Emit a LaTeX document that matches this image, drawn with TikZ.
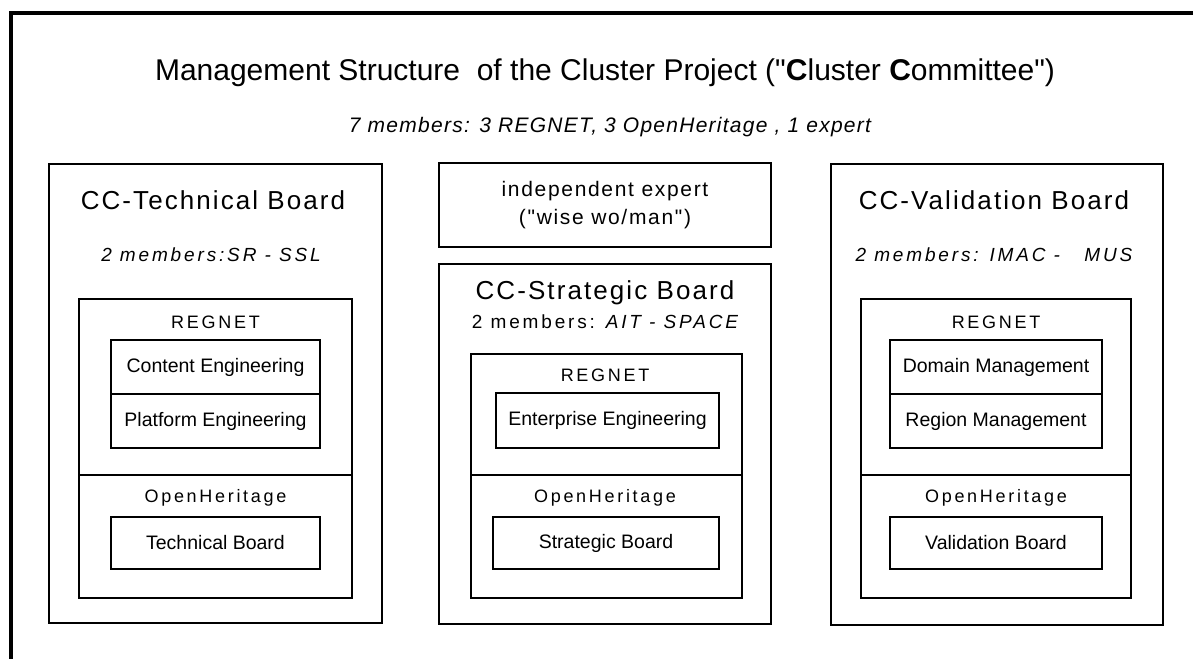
\documentclass[tikz,border=0pt]{standalone}
\usepackage{fontspec}
\setmainfont{Liberation Sans}[Ligatures=TeXOff]
\newfontfamily\spacedfont{Liberation Sans}[Ligatures=TeXOff]

\begin{document}
\begin{tikzpicture}[
    x=1pt, y=-1pt,
    board/.style={rectangle, draw, line width=1.4pt, inner sep=0pt},
    part/.style={rectangle, draw, line width=1.1pt, inner sep=0pt},
    unit/.style={rectangle, draw, line width=1.1pt, inner sep=0pt, font=\fontsize{19.5}{22}\selectfont},
    head/.style={font=\spacedfont\addfontfeature{LetterSpace=8}\fontsize{26}{30}\selectfont},
    members/.style={font=\spacedfont\addfontfeature{LetterSpace=15}\fontsize{19}{22}\selectfont},
    group/.style={font=\spacedfont\addfontfeature{LetterSpace=15}\fontsize{18}{21}\selectfont}
]
\useasboundingbox (0,0) rectangle (1193,659);

% Rahmen (nur oben und links sichtbar)
\coordinate (frame_tr) at (1193,12.5);
\coordinate (frame_tl) at (10.5,12.5);
\coordinate (frame_bl) at (10.5,659);
\draw[line width=4pt] (frame_tr) -- (frame_tl) -- (frame_bl);

% Ueberschrift
\node[font=\fontsize{30}{34}\selectfont] (title) at (605,73) {Management Structure\ \ of the Cluster Project ("\textbf{C}luster \textbf{C}ommittee")};
\node[font=\spacedfont\addfontfeature{LetterSpace=6}\itshape\fontsize{21}{24}\selectfont] (subtitle) at (610,127) {7 members: 3 REGNET, 3 OpenHeritage , 1 expert};

% Technical Board (links)
\node[board, minimum width=333pt, minimum height=459pt] (tech) at (215.5,393.5) {};
\node[head] (tech_head) at (213,200) {CC-Technical Board};
\node[members] (tech_members) at (211,255) {\itshape 2 members:SR - SSL};
\node[part, minimum width=273pt, minimum height=176pt] (tech_regnet) at (215.5,387) {};
\node[part, minimum width=273pt, minimum height=123pt] (tech_oh) at (215.5,536.5) {};
\node[group] at (215.5,322) (tech_regnet_label) {REGNET};
\node[unit, minimum width=209pt, minimum height=54pt] (content) at (215.5,367) {Content Engineering};
\node[unit, minimum width=209pt, minimum height=54pt] (platform) at (215.5,421) {Platform Engineering};
\node[group] at (215.5,498) (tech_oh_label) {OpenHeritage};
\node[unit, minimum width=209pt, minimum height=52pt] (oh_tech) at (215.5,543) {Technical Board};

% Experte und Strategic Board (Mitte)
\node[board, minimum width=332pt, minimum height=84pt, align=center, font=\spacedfont\addfontfeature{LetterSpace=8}\fontsize{21}{28}\selectfont] (expert) at (605,205) {independent expert\\("wise wo/man")};
\node[board, minimum width=332pt, minimum height=360pt] (strat) at (605,444) {};
\node[head] (strat_head) at (605,293) {CC-Strategic Board};
\node[members] (strat_members) at (605,322) {2 members: \itshape AIT - SPACE};
\node[part, minimum width=271pt, minimum height=121pt] (strat_regnet) at (606.5,414.5) {};
\node[part, minimum width=271pt, minimum height=123pt] (strat_oh) at (606.5,536.5) {};
\node[group] at (605,375) (strat_regnet_label) {REGNET};
\node[unit, minimum width=223pt, minimum height=55pt] (enterprise) at (607.5,420.5) {Enterprise Engineering};
\node[group] at (605,498) (strat_oh_label) {OpenHeritage};
\node[unit, minimum width=226pt, minimum height=52pt] (oh_strat) at (606,543) {Strategic Board};

% Validation Board (rechts)
\node[board, minimum width=332pt, minimum height=461pt] (valid) at (997,394.5) {};
\node[head] (valid_head) at (994,200) {CC-Validation Board};
\node[members] (valid_members) at (994,255) {\itshape 2 members: IMAC -\ \ \ MUS};
\node[part, minimum width=270pt, minimum height=176pt] (valid_regnet) at (996,387) {};
\node[part, minimum width=270pt, minimum height=123pt] (valid_oh) at (996,536.5) {};
\node[group] at (996,322) (valid_regnet_label) {REGNET};
\node[unit, minimum width=212pt, minimum height=54pt] (domain) at (996,367) {Domain Management};
\node[unit, minimum width=212pt, minimum height=54pt] (region) at (996,421) {Region Management};
\node[group] at (996,498) (valid_oh_label) {OpenHeritage};
\node[unit, minimum width=212pt, minimum height=52pt] (oh_valid) at (996,543) {Validation Board};
\end{tikzpicture}
\end{document}
